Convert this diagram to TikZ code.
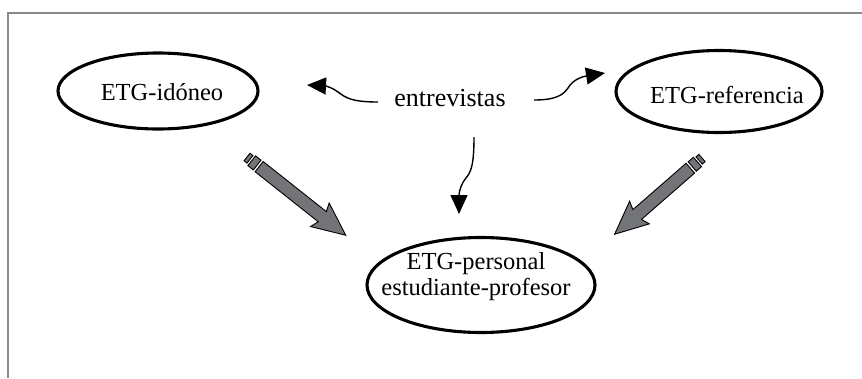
\documentclass[tikz,border=0pt]{standalone}
\usepackage{fontspec}
\setmainfont{Liberation Serif}
\usetikzlibrary{shapes.geometric,arrows.meta}
\definecolor{framegray}{HTML}{8A8A8A}
\definecolor{arrowgray}{HTML}{737477}
\tikzset{
  oval/.style={ellipse, draw=black, line width=3.1pt, inner sep=0pt},
  ovaltext/.style={font=\fontsize{24.5}{27}\selectfont, align=center, inner sep=0pt},
  thinarrow/.style={line width=1.4pt, -{Triangle[length=19pt,width=17pt]}},
  arrowpart/.style={fill=arrowgray, draw=black, line width=0.9pt, line join=miter},
  pics/bigarrow/.style={code={
    \path[arrowpart] (0,-4.8) rectangle (3.8,4.8);
    \path[arrowpart] (6,-6.2) rectangle (13,6.2);
    \path[arrowpart] (15.5,-6.5) -- (#1-30,-6.5) -- (#1-33,-15) -- (#1,0) -- (#1-33,15) -- (#1-30,6.5) -- (15.5,6.5) -- cycle;
  }}
}
\begin{document}
\begin{tikzpicture}[x=1pt,y=-1pt]
\useasboundingbox (0,0) rectangle (862,378);
% frame
\draw[framegray, line width=1.6pt] (8,378) -- (8,13) -- (862,13);
% ellipses
\node[oval, minimum width=200pt, minimum height=76pt,
  label={[ovaltext, xshift=4pt, yshift=-1pt]center:ETG-idóneo}] (ido) at (158,91) {};
\node[oval, minimum width=206pt, minimum height=82pt,
  label={[ovaltext, xshift=8pt, yshift=-3pt]center:ETG-referencia}] (ref) at (719,91.5) {};
\node[oval, minimum width=228pt, minimum height=95pt,
  label={[ovaltext, xshift=-5pt, yshift=8pt]center:ETG-personal\\[-1pt]estudiante-profesor}] (per) at (481,285) {};
\node[font=\fontsize{26}{28}\selectfont, inner sep=0pt] (ent) at (450,98) {entrevistas};
% thin arrows
\coordinate (la) at (378,102);
\coordinate (lb) at (307,85);
\coordinate (ra) at (534,100);
\coordinate (rb) at (605,73);
\coordinate (da) at (474,137);
\coordinate (db) at (459,214);
\draw[thinarrow] (la) .. controls (352,102) and (346,98) .. (338,92) .. controls (333,88) and (326,86) .. (lb);
\draw[thinarrow] (ra) .. controls (556,100) and (563,95) .. (568,88) .. controls (572,81) and (580,77) .. (rb);
\draw[thinarrow] (da) .. controls (474,165) and (471,172) .. (466,178) .. controls (461,184) and (459,192) .. (db);
% big gray arrows
\coordinate (ta) at (247,157);
\coordinate (tb) at (702,158);
\pic[rotate=-38.4] at (ta) {bigarrow=126};
\pic[rotate=-138.9] at (tb) {bigarrow=116};
\end{tikzpicture}
\end{document}
